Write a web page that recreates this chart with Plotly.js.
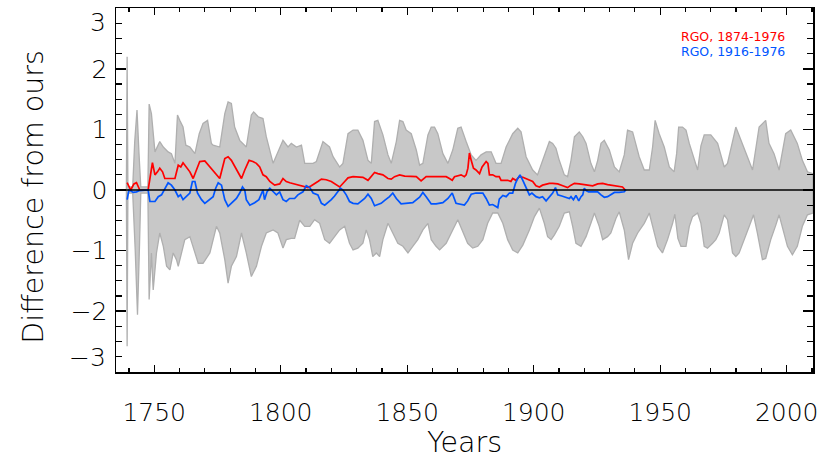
<!DOCTYPE html>
<html>
<head>
<meta charset="utf-8">
<script src="https://cdn.plot.ly/plotly-3.0.1.min.js"></script>
<style>html,body{margin:0;padding:0;background:#fff;}#chart{width:830px;height:466px;}</style>
</head>
<body>
<div id="chart"></div>
<script>
// Envelope (uncertainty band) - upper edge
const bandUpperYears = [1739.0,1739.3,1739.6,1741.5,1742.3,1743.2,1744.0,1744.7,1747.5,1748.0,1748.9,1750.3,1752.2,1753.6,1755.5,1756.8,1758.2,1759.2,1760.1,1761.4,1762.5,1764.1,1766.1,1767.8,1769.3,1771.1,1772.6,1773.3,1775.9,1777.9,1779.2,1780.5,1781.8,1783.8,1786.4,1788.4,1789.3,1791.1,1793.0,1794.3,1797.0,1800.9,1802.9,1804.2,1806.2,1808.2,1809.5,1812.8,1814.1,1816.7,1819.3,1820.7,1823.3,1824.6,1826.6,1828.6,1830.5,1832.5,1834.5,1835.8,1837.1,1838.4,1840.4,1842.4,1843.7,1845.7,1847.0,1848.3,1849.6,1851.6,1853.6,1854.9,1856.2,1858.2,1859.5,1860.8,1862.1,1864.1,1866.1,1868.0,1870.0,1871.3,1873.3,1875.3,1877.2,1879.2,1881.2,1883.2,1885.1,1887.1,1889.1,1891.7,1893.7,1895.0,1897.0,1899.6,1901.5,1904.2,1906.2,1907.5,1908.8,1910.1,1912.1,1913.4,1914.75,1916.1,1918.0,1919.4,1920.7,1922.6,1924.0,1925.3,1926.6,1927.9,1929.9,1931.9,1933.8,1935.8,1937.1,1939.1,1940.4,1941.7,1943.7,1945.7,1947.0,1948.0,1949.6,1951.6,1953.6,1955.5,1956.5,1957.3,1958.8,1960.2,1961.5,1964.8,1966.1,1967.4,1970.0,1972.7,1975.3,1976.6,1979.9,1982.5,1986.5,1989.1,1991.7,1993.0,1995.0,1997.0,1999.6,2001.6,2004.2,2006.2,2008.2,2010.4];
const bandUpper = [0.0,2.2,0.05,0.05,0.8,1.32,0.6,0.05,0.05,1.42,1.26,0.63,0.80,0.71,0.63,0.60,0.44,1.24,1.15,1.04,0.74,0.71,0.60,0.93,1.10,1.15,0.77,0.74,0.71,1.26,1.455,1.43,1.04,0.82,0.71,1.24,1.29,1.21,1.18,0.88,0.44,0.82,0.71,0.77,0.71,0.74,0.44,0.44,0.47,0.80,0.71,0.55,0.38,0.44,0.93,0.99,0.99,0.82,0.49,0.44,1.13,1.15,0.91,0.58,0.44,0.80,1.15,1.13,0.99,0.93,0.66,0.41,0.44,0.91,1.04,1.04,0.93,0.60,0.44,0.66,1.02,1.04,0.80,0.58,0.49,0.58,0.63,0.63,0.44,0.44,0.71,0.93,1.02,0.96,0.55,0.33,0.25,0.55,0.80,0.77,0.69,0.49,0.25,0.22,0.49,0.88,0.96,0.88,0.77,0.44,0.30,0.49,0.77,0.82,0.66,0.38,0.30,0.58,0.99,0.96,0.77,0.55,0.33,0.33,0.71,1.15,0.93,0.71,0.38,0.30,0.60,1.04,1.04,0.99,0.77,0.33,0.73,0.91,0.91,0.77,0.38,0.44,1.04,0.77,0.33,1.04,1.15,0.77,0.60,0.33,0.93,0.99,0.77,0.49,0.30,0.27];
// Envelope - lower edge
const bandLowerYears = [1739.0,1739.3,1739.6,1741.5,1742.5,1743.4,1744.2,1744.7,1747.5,1748.0,1748.9,1749.6,1750.9,1752.2,1753.6,1754.9,1756.2,1757.5,1758.8,1759.5,1760.8,1762.1,1764.1,1765.4,1767.4,1769.3,1772.0,1774.6,1775.9,1777.9,1779.2,1780.5,1782.5,1784.5,1786.4,1788.4,1790.4,1792.4,1794.3,1797.0,1798.9,1800.9,1802.2,1804.2,1805.5,1807.5,1809.5,1811.5,1813.4,1815.4,1817.4,1819.3,1821.3,1823.3,1825.3,1827.2,1828.6,1830.5,1832.5,1833.8,1835.1,1836.4,1837.8,1839.1,1840.4,1842.4,1844.3,1846.3,1848.3,1850.3,1852.2,1854.2,1856.2,1858.2,1859.5,1861.4,1862.8,1865.4,1868.0,1870.0,1872.0,1873.9,1875.9,1877.9,1879.9,1881.8,1883.8,1885.8,1887.8,1889.7,1891.7,1893.7,1895.7,1898.3,1900.3,1902.25,1904.2,1905.5,1906.9,1908.2,1910.1,1912.1,1914.1,1915.4,1916.7,1918.7,1920.7,1922.6,1924.0,1925.9,1927.25,1929.2,1930.5,1932.5,1933.8,1935.8,1937.5,1939.1,1941.1,1943.7,1945.7,1947.0,1949.0,1950.9,1952.9,1954.9,1955.8,1957.0,1958.2,1960.2,1961.5,1962.8,1964.8,1966.1,1967.4,1968.7,1970.7,1972.0,1973.3,1975.3,1976.6,1978.6,1979.9,1981.2,1983.2,1985.2,1986.9,1988.4,1990.4,1991.7,1993.7,1995.7,1997.0,1998.3,2000.3,2002.25,2004.2,2006.2,2008.2,2010.4];
const bandLower = [0.0,-2.58,-0.05,-0.05,-1.0,-2.06,-0.9,-0.05,-0.05,-1.81,-1.04,-1.65,-1.04,-0.71,-0.93,-1.26,-1.32,-1.04,-1.15,-1.26,-1.04,-0.82,-0.77,-0.93,-1.21,-1.21,-1.04,-0.60,-0.71,-1.15,-1.54,-1.26,-1.10,-0.71,-1.04,-1.43,-1.26,-0.93,-0.71,-0.66,-0.71,-0.96,-0.82,-0.80,-0.80,-0.50,-0.60,-0.60,-0.49,-0.55,-0.82,-0.88,-0.77,-0.66,-0.60,-0.88,-0.99,-0.96,-0.88,-0.66,-0.82,-1.10,-1.04,-1.10,-0.82,-0.55,-0.71,-0.88,-0.93,-1.04,-0.93,-0.82,-0.66,-0.55,-0.82,-0.93,-0.99,-0.88,-0.66,-0.49,-0.69,-0.88,-0.96,-0.93,-0.82,-0.55,-0.38,-0.38,-0.55,-0.82,-0.99,-1.04,-0.91,-0.66,-0.44,-0.30,-0.55,-0.77,-0.82,-0.74,-0.60,-0.38,-0.36,-0.60,-0.88,-0.93,-0.77,-0.55,-0.38,-0.60,-0.82,-0.77,-0.71,-0.47,-0.36,-0.66,-1.15,-0.88,-0.71,-0.55,-0.38,-0.60,-0.93,-1.04,-0.82,-0.55,-0.40,-0.80,-0.93,-0.93,-0.60,-0.44,-0.38,-0.55,-0.93,-0.96,-0.88,-0.82,-0.71,-0.41,-0.49,-1.04,-1.10,-1.04,-0.82,-0.60,-0.41,-0.71,-1.15,-1.13,-0.82,-0.58,-0.41,-0.60,-0.93,-1.07,-0.93,-0.60,-0.41,-0.38];

// RGO, 1874-1976
const rgoAYears = [1739.3,1740.0,1740.7,1742.0,1743.0,1744.3,1747.6,1749.3,1750.3,1751.3,1752.2,1753.3,1754.2,1756.2,1758.2,1759.5,1760.5,1761.4,1762.8,1764.1,1765.4,1766.7,1768.0,1770.0,1772.0,1774.0,1775.9,1777.9,1779.2,1780.5,1782.5,1784.5,1785.8,1787.5,1789.0,1790.4,1791.7,1793.0,1794.3,1795.7,1797.6,1799.6,1800.9,1802.2,1803.6,1805.5,1807.5,1809.0,1810.8,1812.1,1813.4,1814.7,1816.1,1818.0,1820.0,1822.0,1823.3,1825.3,1826.6,1828.6,1830.5,1832.5,1834.5,1835.8,1837.1,1838.4,1840.4,1842.4,1843.7,1845.0,1847.0,1849.0,1850.9,1853.6,1855.5,1857.5,1860.1,1862.8,1865.4,1866.7,1867.8,1868.7,1870.0,1871.3,1872.6,1873.3,1874.0,1874.6,1875.3,1876.2,1877.2,1878.6,1879.6,1881.2,1881.9,1882.5,1883.8,1885.1,1886.4,1887.1,1888.4,1889.7,1891.0,1891.7,1893.0,1894.3,1895.7,1897.0,1898.3,1899.6,1900.9,1902.25,1903.5,1904.9,1906.2,1907.5,1909.5,1911.5,1913.4,1914.75,1916.1,1918.0,1920.0,1922.0,1923.3,1925.3,1927.25,1929.2,1931.2,1933.2,1935.1,1936.2];
const rgoA = [0.12,0.05,0.0,0.10,0.12,0.0,0.0,0.45,0.25,0.30,0.36,0.30,0.19,0.19,0.19,0.41,0.38,0.45,0.38,0.30,0.19,0.33,0.47,0.48,0.38,0.27,0.19,0.52,0.55,0.49,0.33,0.19,0.33,0.49,0.47,0.44,0.38,0.25,0.22,0.14,0.08,0.10,0.19,0.14,0.12,0.10,0.07,0.06,0.04,0.07,0.10,0.14,0.18,0.17,0.14,0.08,0.05,0.14,0.20,0.22,0.22,0.21,0.16,0.22,0.29,0.27,0.25,0.19,0.18,0.22,0.25,0.23,0.23,0.22,0.15,0.22,0.22,0.22,0.22,0.19,0.16,0.22,0.23,0.25,0.22,0.25,0.36,0.61,0.49,0.36,0.33,0.27,0.38,0.47,0.44,0.25,0.25,0.22,0.22,0.16,0.16,0.16,0.14,0.19,0.16,0.22,0.21,0.19,0.16,0.14,0.07,0.05,0.08,0.10,0.11,0.11,0.10,0.07,0.04,0.08,0.11,0.10,0.09,0.08,0.07,0.10,0.11,0.09,0.08,0.07,0.05,0.0];

// RGO, 1916-1976
const rgoBYears = [1739.3,1740.0,1741.0,1741.7,1743.0,1744.0,1747.6,1748.3,1750.3,1751.6,1752.9,1754.2,1755.5,1756.8,1758.2,1759.5,1760.4,1761.4,1762.8,1764.1,1765.1,1766.1,1767.1,1768.7,1770.0,1772.0,1773.3,1774.3,1775.3,1776.6,1777.9,1779.2,1781.2,1782.5,1783.8,1784.9,1785.8,1786.4,1787.8,1789.7,1791.4,1793.0,1793.6,1794.6,1795.7,1797.0,1798.3,1799.6,1800.9,1802.2,1803.5,1805.5,1806.8,1808.8,1810.1,1811.5,1812.8,1814.7,1816.1,1817.4,1818.7,1820.0,1821.3,1822.6,1823.6,1824.6,1825.9,1827.2,1828.6,1830.5,1831.9,1833.2,1834.5,1835.8,1837.1,1838.4,1839.7,1841.1,1843.0,1844.3,1845.7,1847.6,1849.6,1852.2,1854.9,1856.2,1857.5,1859.5,1861.4,1864.1,1866.1,1867.8,1869.3,1870.7,1872.6,1873.9,1875.3,1877.2,1879.9,1881.2,1882.5,1883.8,1885.1,1885.8,1886.4,1887.8,1889.1,1890.4,1891.7,1892.8,1893.7,1894.6,1895.7,1897.0,1898.3,1899.3,1900.9,1902.25,1903.5,1904.9,1906.2,1907.5,1908.6,1909.5,1911.1,1912.8,1914.1,1914.75,1915.7,1916.7,1917.8,1918.7,1919.4,1920.0,1920.7,1921.7,1923.3,1925.3,1926.6,1927.9,1929.2,1930.5,1931.9,1933.8,1935.8,1936.5];
const rgoB = [-0.16,0.0,-0.02,-0.04,-0.03,-0.01,0.0,-0.19,-0.19,-0.11,-0.08,0.03,0.12,0.08,0.0,-0.11,-0.08,-0.16,-0.11,-0.05,0.14,0.14,-0.05,-0.16,-0.22,-0.16,-0.11,0.03,0.12,0.08,-0.16,-0.27,-0.19,-0.14,-0.05,0.05,0.0,-0.16,-0.25,-0.21,-0.16,0.0,-0.16,-0.03,0.03,-0.03,-0.08,-0.03,-0.16,-0.19,-0.14,-0.14,-0.08,-0.03,0.07,0.04,-0.05,-0.08,-0.22,-0.25,-0.21,-0.16,-0.10,-0.03,0.03,0.0,-0.08,-0.19,-0.22,-0.23,-0.19,-0.14,-0.07,-0.14,-0.26,-0.24,-0.22,-0.17,-0.11,-0.05,-0.14,-0.23,-0.22,-0.21,-0.12,-0.04,-0.11,-0.23,-0.23,-0.21,-0.14,-0.05,-0.22,-0.23,-0.25,-0.18,-0.07,-0.05,-0.05,-0.14,-0.25,-0.24,-0.27,-0.29,-0.15,-0.09,-0.11,-0.05,-0.05,0.11,0.19,0.25,0.16,0.05,-0.08,-0.05,-0.11,-0.13,-0.11,-0.18,-0.11,-0.05,0.04,-0.08,-0.10,-0.12,-0.14,-0.11,-0.16,-0.09,-0.18,-0.11,-0.08,0.03,-0.01,-0.03,-0.03,-0.03,-0.08,-0.12,-0.11,-0.07,-0.04,-0.04,-0.03,0.01];

const seriesNames = ['RGO, 1874-1976', 'RGO, 1916-1976'];
const xTickVals = [1750, 1800, 1850, 1900, 1950, 2000];
const yTickVals = [-3, -2, -1, 0, 1, 2, 3];
const yRangeEnds = [-3, 3];

const FONT = 'DejaVu Sans, sans-serif';
const RED = 'rgb(255,0,0)';
const BLUE = 'rgb(0,85,255)';

const fmtY = v => v < 0 ? '\u2212' + Math.abs(v) : String(v);

const bandX = bandUpperYears.concat(bandLowerYears.slice().reverse());
const bandY = bandUpper.concat(bandLower.slice().reverse());

const traces = [
  {x: bandX, y: bandY, type: 'scatter', mode: 'lines', fill: 'toself',
   fillcolor: 'rgb(200,200,200)', line: {color: 'rgb(175,175,175)', width: 1.3},
   hoverinfo: 'skip', showlegend: false},
  {x: rgoAYears, y: rgoA, type: 'scatter', mode: 'lines', name: seriesNames[0],
   line: {color: RED, width: 1.7}, showlegend: false},
  {x: rgoBYears, y: rgoB, type: 'scatter', mode: 'lines', name: seriesNames[1],
   line: {color: BLUE, width: 1.7}, showlegend: false}
];

const tickFont = {family: FONT, size: 25, color: 'black', weight: 200};
const titleFont = {family: FONT, size: 28.5, color: 'black', weight: 200};

const axisCommon = {
  showline: true, linecolor: 'black', linewidth: 1.5, mirror: 'ticks',
  ticks: 'inside', tickcolor: 'black', tickwidth: 1.3,
  showgrid: false, zeroline: false, ticklabeloverflow: 'allow',
  tickfont: tickFont
};

// end labels of the y axis sit inside the axis span (as in the original)
const endLabels = yRangeEnds.map(v => ({
  xref: 'paper', yref: 'y', x: 0, y: v, xanchor: 'right',
  yanchor: v > 0 ? 'top' : 'bottom', xshift: -8, yshift: v > 0 ? 2 : -2,
  text: fmtY(v), showarrow: false, font: tickFont
}));

const layout = {
  width: 830, height: 466,
  margin: {l: 116, r: 16.5, t: 8, b: 94},
  paper_bgcolor: 'white', plot_bgcolor: 'white',
  showlegend: false,
  xaxis: Object.assign({}, axisCommon, {
    range: [1734.9, 2010.4], tickmode: 'array', tickvals: xTickVals,
    ticktext: xTickVals.map(String), ticklen: 7, ticklabelstandoff: 17,
    minor: {dtick: 10, tick0: 1740, ticks: 'inside', ticklen: 4, tickcolor: 'black', tickwidth: 1.2, showgrid: false},
    title: {text: 'Years', font: titleFont, standoff: 0}
  }),
  yaxis: Object.assign({}, axisCommon, {
    range: [-3.006, 3.006], tickmode: 'array', tickvals: yTickVals,
    ticktext: yTickVals.map(v => yRangeEnds.includes(v) ? '' : fmtY(v)), ticklen: 10,
    ticklabelstandoff: 2,
    minor: {dtick: 0.25, tick0: 0, ticks: 'inside', ticklen: 6, tickcolor: 'black', tickwidth: 1.2, showgrid: false}
  }),
  shapes: [
    {type: 'line', xref: 'paper', yref: 'y', x0: 0, x1: 1, y0: 0, y1: 0,
     line: {color: 'black', width: 1.6}, layer: 'above'}
  ],
  annotations: endLabels.concat([
    {xref: 'paper', yref: 'paper', x: -0.118, y: 0.481, xanchor: 'center', yanchor: 'middle',
     textangle: -90, text: 'Difference from ours', showarrow: false, font: titleFont},
    {xref: 'paper', yref: 'paper', x: 0.962, y: 0.9217, xanchor: 'right', yanchor: 'middle',
     text: seriesNames[0], showarrow: false, font: {family: FONT, size: 12.5, color: RED}},
    {xref: 'paper', yref: 'paper', x: 0.962, y: 0.8805, xanchor: 'right', yanchor: 'middle',
     text: seriesNames[1], showarrow: false, font: {family: FONT, size: 12.5, color: BLUE}}
  ])
};

Plotly.newPlot('chart', traces, layout, {staticPlot: true, displayModeBar: false});
</script>
</body>
</html>
